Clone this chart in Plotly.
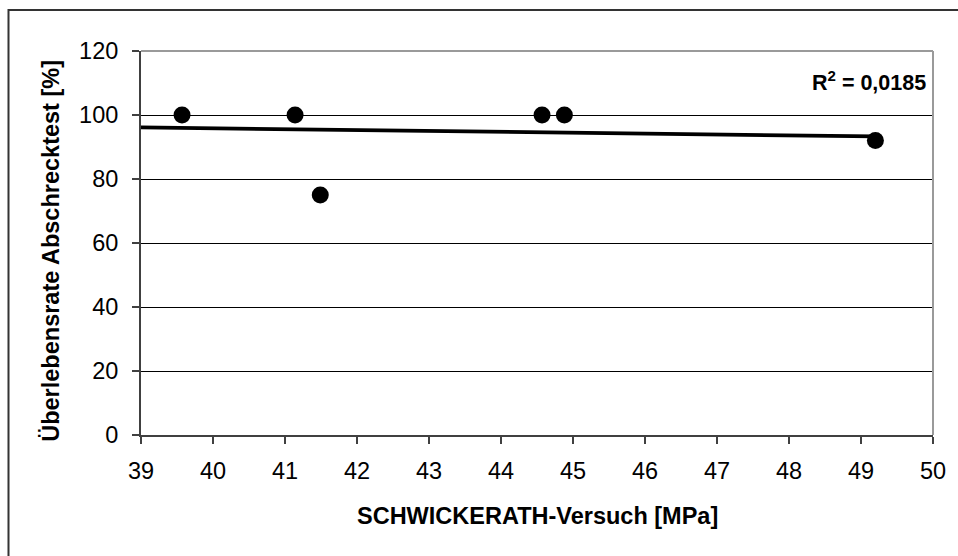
import numpy as np
import plotly.graph_objects as go

# Measured values: bending strength (SCHWICKERATH test) vs. survival rate after quench test
strength_mpa = [39.57, 41.14, 41.49, 44.57, 44.88, 49.2]
survival_pct = [100, 100, 75, 100, 100, 92]

# Linear trend line (as reported with the chart)
trend_slope = -0.275
trend_intercept = 106.83
trend_r2_label = "0,0185"

x_ticks = list(range(39, 51))
y_ticks = [0, 20, 40, 60, 80, 100, 120]

x_title = "SCHWICKERATH-Versuch [MPa]"
y_title = "Überlebensrate Abschrecktest [%]"

FONT = "Arial, 'Liberation Sans', Helvetica, sans-serif"
FS = 23.5

trend_x = np.array([39.0, max(strength_mpa)])
trend_y = trend_slope * trend_x + trend_intercept

fig = go.Figure()
fig.add_trace(go.Scatter(
    x=trend_x, y=trend_y, mode="lines",
    line=dict(color="black", width=3.8),
    hoverinfo="skip", showlegend=False,
))
fig.add_trace(go.Scatter(
    x=strength_mpa, y=survival_pct, mode="markers",
    marker=dict(color="black", size=17, line=dict(width=0)),
    showlegend=False,
))

fig.add_annotation(
    x=49.93, y=110.6, xref="x", yref="y",
    text="<b>R<sup>2</sup> = " + trend_r2_label + "</b>",
    showarrow=False, xanchor="right", yanchor="middle",
    font=dict(family=FONT, size=21.5, color="black"),
)

# Axis titles
fig.add_annotation(
    x=0.5, y=-0.211, xref="paper", yref="paper",
    text="<b>" + x_title + "</b>", showarrow=False,
    xanchor="center", yanchor="middle",
    font=dict(family=FONT, size=FS, color="black"),
)
fig.add_annotation(
    x=-0.114, y=0.479, xref="paper", yref="paper",
    text="<b>" + y_title + "</b>", showarrow=False, textangle=-90,
    xanchor="center", yanchor="middle",
    font=dict(family=FONT, size=FS, color="black"),
)

# Plot-area border (top/right in grey) and the outer chart frame
fig.add_shape(type="line", xref="paper", yref="paper", x0=0, x1=1, y0=1, y1=1,
              line=dict(color="#9a9a9a", width=2))
fig.add_shape(type="line", xref="paper", yref="paper", x0=1, x1=1, y0=0, y1=1,
              line=dict(color="#9a9a9a", width=2))
fig.add_shape(type="rect", xref="paper", yref="paper",
              x0=-0.1673, x1=1.5, y0=-0.5, y1=1.1068,
              line=dict(color="#333333", width=2))

fig.update_xaxes(
    range=[39, 50], tickvals=x_ticks, ticktext=[str(v) for v in x_ticks],
    showgrid=False, zeroline=False,
    showline=True, linecolor="#404040", linewidth=2,
    ticks="outside", ticklen=7, tickwidth=1.5, tickcolor="#404040",
    ticklabelstandoff=7,
    tickfont=dict(family=FONT, size=FS, color="black"),
)
fig.update_yaxes(
    range=[0, 120], tickvals=y_ticks, ticktext=[str(v) for v in y_ticks],
    showgrid=True, gridcolor="black", gridwidth=1, zeroline=False,
    showline=True, linecolor="#404040", linewidth=2,
    ticks="outside", ticklen=7, tickwidth=1.5, tickcolor="#404040",
    ticklabelstandoff=9,
    tickfont=dict(family=FONT, size=FS, color="black"),
)

fig.update_layout(
    width=958, height=556,
    margin=dict(l=141, r=22, t=51, b=121),
    paper_bgcolor="white", plot_bgcolor="white",
    showlegend=False,
)

fig.write_html("out.html")
